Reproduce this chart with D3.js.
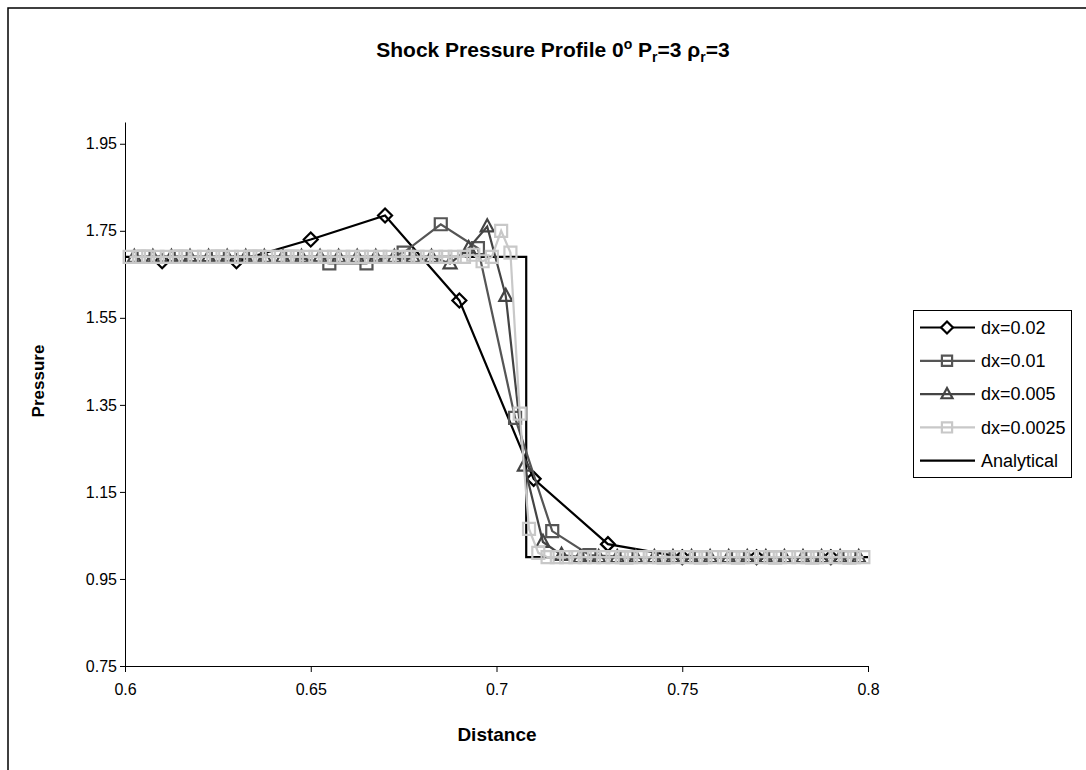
<!DOCTYPE html>
<html>
<head>
<meta charset="utf-8">
<script src="https://cdn.jsdelivr.net/npm/d3@7"></script>
<style>
  html, body { margin: 0; padding: 0; background: #fff; }
  svg { display: block; }
  text { font-family: "Liberation Sans", Arial, sans-serif; fill: #000; }
</style>
</head>
<body>
<svg id="chart" width="1086" height="770"></svg>
<script>
// ---------------- data ----------------
const xTicks = [0.6, 0.65, 0.7, 0.75, 0.8];
const xTickLabels = ["0.6", "0.65", "0.7", "0.75", "0.8"];
const yTicks = [0.75, 0.95, 1.15, 1.35, 1.55, 1.75, 1.95];
const yTickLabels = ["0.75", "0.95", "1.15", "1.35", "1.55", "1.75", "1.95"];

const seriesNames = ["dx=0.02", "dx=0.01", "dx=0.005", "dx=0.0025", "Analytical"];

const x002 = [0.61, 0.63, 0.65, 0.67, 0.69, 0.71, 0.73, 0.75, 0.77, 0.79];
const y002 = [1.68, 1.68, 1.73, 1.785, 1.59, 1.18, 1.03, 1.0, 1.0, 1.0];

const x001 = [0.605, 0.615, 0.625, 0.635, 0.645, 0.655, 0.665, 0.675, 0.685, 0.695,
              0.705, 0.715, 0.725, 0.735, 0.745, 0.755, 0.765, 0.775, 0.785, 0.795];
const y001 = [1.69, 1.69, 1.69, 1.69, 1.69, 1.675, 1.675, 1.70, 1.765, 1.71,
              1.32, 1.06, 1.005, 1.0, 1.0, 1.0, 1.0, 1.0, 1.0, 1.0];

const x0005 = [0.6025, 0.6075, 0.6125, 0.6175, 0.6225, 0.6275, 0.6325, 0.6375, 0.6425, 0.6475,
               0.6525, 0.6575, 0.6625, 0.6675, 0.6725, 0.6775, 0.6825, 0.6875, 0.6925, 0.6975,
               0.7025, 0.7075, 0.7125, 0.7175, 0.7225, 0.7275, 0.7325, 0.7375, 0.7425, 0.7475,
               0.7525, 0.7575, 0.7625, 0.7675, 0.7725, 0.7775, 0.7825, 0.7875, 0.7925, 0.7975];
const y0005 = [1.69, 1.69, 1.69, 1.69, 1.69, 1.69, 1.69, 1.69, 1.69, 1.69,
               1.69, 1.69, 1.69, 1.69, 1.69, 1.69, 1.69, 1.675, 1.71, 1.76,
               1.60, 1.21, 1.035, 1.005, 1.0, 1.0, 1.0, 1.0, 1.0, 1.0,
               1.0, 1.0, 1.0, 1.0, 1.0, 1.0, 1.0, 1.0, 1.0, 1.0];

const x00025 = [0.60125, 0.60375, 0.60625, 0.60875, 0.61125, 0.61375, 0.61625, 0.61875, 0.62125, 0.62375,
                0.62625, 0.62875, 0.63125, 0.63375, 0.63625, 0.63875, 0.64125, 0.64375, 0.64625, 0.64875,
                0.65125, 0.65375, 0.65625, 0.65875, 0.66125, 0.66375, 0.66625, 0.66875, 0.67125, 0.67375,
                0.67625, 0.67875, 0.68125, 0.68375, 0.68625, 0.68875, 0.69125, 0.69375, 0.69625, 0.69875,
                0.70125, 0.70375, 0.70625, 0.70875, 0.71125, 0.71375, 0.71625, 0.71875, 0.72125, 0.72375,
                0.72625, 0.72875, 0.73125, 0.73375, 0.73625, 0.73875, 0.74125, 0.74375, 0.74625, 0.74875,
                0.75125, 0.75375, 0.75625, 0.75875, 0.76125, 0.76375, 0.76625, 0.76875, 0.77125, 0.77375,
                0.77625, 0.77875, 0.78125, 0.78375, 0.78625, 0.78875, 0.79125, 0.79375, 0.79625, 0.79875];
const y00025 = [1.69, 1.69, 1.69, 1.69, 1.69, 1.69, 1.69, 1.69, 1.69, 1.69,
                1.69, 1.69, 1.69, 1.69, 1.69, 1.69, 1.69, 1.69, 1.69, 1.69,
                1.69, 1.69, 1.69, 1.69, 1.69, 1.69, 1.69, 1.69, 1.69, 1.69,
                1.69, 1.69, 1.69, 1.69, 1.69, 1.69, 1.69, 1.695, 1.68, 1.69,
                1.75, 1.70, 1.33, 1.065, 1.01, 1.0, 1.0, 1.0, 1.0, 1.0,
                1.0, 1.0, 1.0, 1.0, 1.0, 1.0, 1.0, 1.0, 1.0, 1.0,
                1.0, 1.0, 1.0, 1.0, 1.0, 1.0, 1.0, 1.0, 1.0, 1.0,
                1.0, 1.0, 1.0, 1.0, 1.0, 1.0, 1.0, 1.0, 1.0, 1.0];

const xAnalytical = [0.6, 0.708, 0.708, 0.8];
const yAnalytical = [1.69, 1.69, 1.0, 1.0];

// ---------------- chart ----------------
const svg = d3.select("#chart");
const xScale = d3.scaleLinear().domain([0.6, 0.8]).range([125, 868]);
const yScale = d3.scaleLinear().domain([0.75, 2.0]).range([666, 122]);

// outer frame
svg.append("rect").attr("x", 8).attr("y", 8).attr("width", 1200).attr("height", 900)
  .attr("fill", "none").attr("stroke", "#000").attr("stroke-width", 1.5);

// title
const title = svg.append("text").attr("x", 553).attr("y", 57)
  .attr("text-anchor", "middle").attr("font-weight", "bold").attr("font-size", 21);
title.append("tspan").text("Shock Pressure Profile 0");
title.append("tspan").attr("font-size", 14).attr("dy", -8).text("o");
title.append("tspan").attr("dy", 8).text(" P");
title.append("tspan").attr("font-size", 14).attr("dy", 5).text("r");
title.append("tspan").attr("dy", -5).text("=3 \u03C1");
title.append("tspan").attr("font-size", 14).attr("dy", 5).text("r");
title.append("tspan").attr("dy", -5).text("=3");

// axes
const xAxis = d3.axisBottom(xScale).tickValues(xTicks)
  .tickFormat((d, i) => xTickLabels[i]).tickSize(6).tickSizeOuter(0).tickPadding(12);
const yAxis = d3.axisLeft(yScale).tickValues(yTicks)
  .tickFormat((d, i) => yTickLabels[i]).tickSize(5).tickSizeOuter(0).tickPadding(3);

const gx = svg.append("g").attr("transform", "translate(0,666)").call(xAxis);
const gy = svg.append("g").attr("transform", "translate(125,0)").call(yAxis);
[gx, gy].forEach(g => {
  g.select(".domain").attr("stroke", "#000").attr("stroke-width", 1);
  g.selectAll(".tick line").attr("stroke", "#000");
  g.selectAll(".tick text").attr("font-family", "Liberation Sans, Arial, sans-serif")
    .attr("font-size", 16).attr("fill", "#000");
});

// axis titles
svg.append("text").attr("x", 497).attr("y", 741).attr("text-anchor", "middle")
  .attr("font-weight", "bold").attr("font-size", 19).text("Distance");
svg.append("text").attr("transform", "translate(44,381) rotate(-90)")
  .attr("text-anchor", "middle").attr("font-weight", "bold").attr("font-size", 17).text("Pressure");

// marker shapes
function markerPath(type, s) {
  if (type === "diamond") return `M0,${-s}L${s},0L0,${s}L${-s},0Z`;
  if (type === "square") return `M${-s},${-s}H${s}V${s}H${-s}Z`;
  if (type === "triangle") return `M0,${-s * 1.1}L${s},${s * 0.75}L${-s},${s * 0.75}Z`;
  return "";
}

const series = [
  { name: seriesNames[4], xs: xAnalytical, ys: yAnalytical, color: "#000", marker: null },
  { name: seriesNames[0], xs: x002, ys: y002, color: "#000", marker: "diamond", size: 7 },
  { name: seriesNames[1], xs: x001, ys: y001, color: "#555", marker: "square", size: 6 },
  { name: seriesNames[2], xs: x0005, ys: y0005, color: "#444", marker: "triangle", size: 6.5 },
  { name: seriesNames[3], xs: x00025, ys: y00025, color: "#c8c8c8", marker: "square", size: 6 }
];

const line = d3.line().x(d => xScale(d[0])).y(d => yScale(d[1]));

series.forEach(s => {
  const pts = s.xs.map((x, i) => [x, s.ys[i]]);
  const g = svg.append("g");
  g.append("path").datum(pts).attr("d", line)
    .attr("fill", "none").attr("stroke", s.color).attr("stroke-width", 2.2);
  if (s.marker) {
    g.selectAll("path.mk").data(pts).enter().append("path").attr("class", "mk")
      .attr("transform", d => `translate(${xScale(d[0])},${yScale(d[1])})`)
      .attr("d", markerPath(s.marker, s.size))
      .attr("fill", "none").attr("stroke", s.color).attr("stroke-width", 2.2);
  }
});

// legend
const legend = svg.append("g");
legend.append("rect").attr("x", 913.5).attr("y", 310.5).attr("width", 158).attr("height", 167)
  .attr("fill", "#fff").attr("stroke", "#000").attr("stroke-width", 1);
const legendOrder = [series[1], series[2], series[3], series[4], series[0]];
legendOrder.forEach((s, i) => {
  const y = 327.5 + i * 33.3;
  legend.append("line").attr("x1", 920).attr("x2", 975).attr("y1", y).attr("y2", y)
    .attr("stroke", s.color).attr("stroke-width", 2.2);
  if (s.marker) {
    legend.append("path").attr("transform", `translate(947,${y})`)
      .attr("d", markerPath(s.marker, s.size * 0.85))
      .attr("fill", s.marker === "diamond" ? "#fff" : "none")
      .attr("stroke", s.color).attr("stroke-width", 2.2);
  }
  legend.append("text").attr("x", 981).attr("y", y).attr("dy", "0.35em")
    .attr("font-size", 18).text(s.name);
});
</script>
</body>
</html>
